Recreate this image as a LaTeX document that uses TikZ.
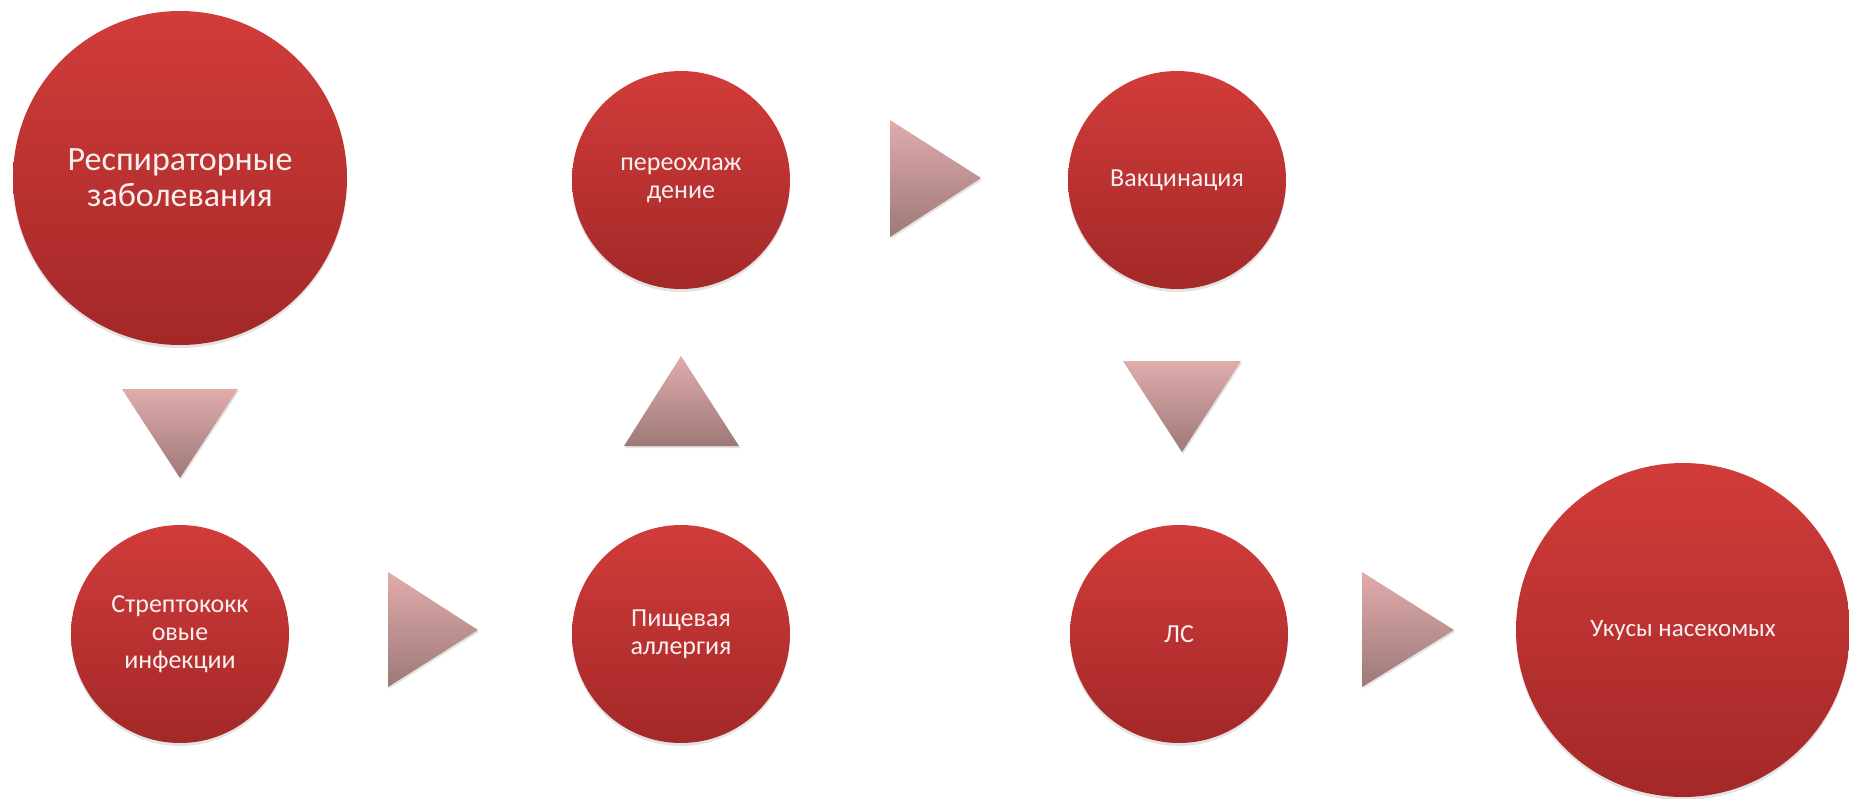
\documentclass[tikz,border=0pt]{standalone}
\usepackage{fontspec}
\setmainfont{Carlito}
\usetikzlibrary{shadows,shapes.geometric}
\definecolor{ctop}{RGB}{209,60,58}
\definecolor{cbot}{RGB}{163,40,40}
\definecolor{ttop}{RGB}{224,172,172}
\definecolor{tbot}{RGB}{158,120,120}
\definecolor{txt}{RGB}{250,240,240}
\begin{document}
\begin{tikzpicture}[x=1pt,y=-1pt,
  bub/.style={circle, inner sep=0pt, top color=ctop, bottom color=cbot, draw=none,
    text=txt, align=center,
    drop shadow={opacity=0.22, shadow xshift=0pt, shadow yshift=-3pt}},
  bigbub/.style={bub, minimum size=334pt, font=\fontsize{34}{36}\selectfont},
  smallbub/.style={bub, minimum size=218pt, font=\fontsize{26}{28}\selectfont},
  tri/.style={top color=ttop, bottom color=tbot, draw=none,
    drop shadow={opacity=0.22, shadow xshift=1pt, shadow yshift=-2pt}}]
\useasboundingbox (0,0) rectangle (1849,798);

\node[bigbub] (resp) at (180,178) {Респираторные\\заболевания};
\node[smallbub] (cool) at (681,180) {переохлаж\\дение};
\node[smallbub] (vacc) at (1177,180) {Вакцинация};
\node[smallbub] (strep) at (180,634) {Стрептококк\\овые\\инфекции};
\node[smallbub] (food) at (681,634) {Пищевая\\аллергия};
\node[smallbub] (ls) at (1179,634) {ЛС};
\node[bigbub, font=\fontsize{25}{28}\selectfont] (bite) at (1683,630) {Укусы насекомых};

% arrow triangles
\path[tri] (122,389) -- (238,389) -- (180,478) -- cycle;
\path[tri] (388,572) -- (478,630) -- (388,687) -- cycle;
\path[tri] (624,446) -- (681,356) -- (739,446) -- cycle;
\path[tri] (890,120) -- (981,178) -- (890,237) -- cycle;
\path[tri] (1123,361) -- (1241,361) -- (1182,452) -- cycle;
\path[tri] (1362,572) -- (1454,630) -- (1362,687) -- cycle;
\end{tikzpicture}
\end{document}
